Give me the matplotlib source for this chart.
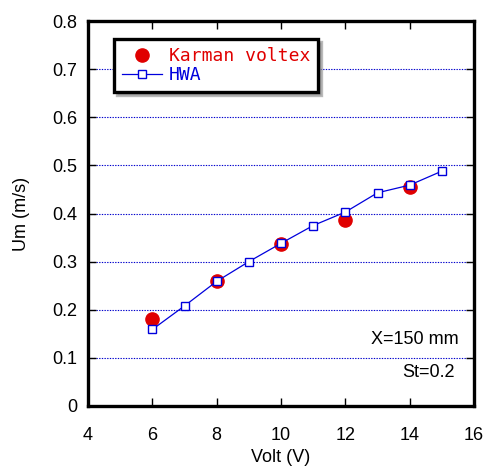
import matplotlib
matplotlib.use("Agg")
import matplotlib.pyplot as plt

volt_hwa = [6, 7, 8, 9, 10, 11, 12, 13, 14, 15]
um_hwa = [0.159, 0.208, 0.259, 0.300, 0.338, 0.375, 0.403, 0.443, 0.459, 0.488]
volt_karman = [6, 8, 10, 12, 14]
um_karman = [0.181, 0.260, 0.337, 0.387, 0.455]

plt.rcParams['font.family'] = ['Liberation Sans', 'DejaVu Sans']

fig = plt.figure(figsize=(4.87, 4.72), dpi=100)
ax = fig.add_axes([88/487, 1-406/472, 386/487, 385/472])

ax.plot(volt_karman, um_karman, 'o', color='#e00000', markersize=9.5, zorder=3,
        label='Karman voltex')
ax.plot(volt_hwa, um_hwa, '-s', color='#0000dd', markersize=6, linewidth=0.9,
        markerfacecolor='white', markeredgewidth=1.0, zorder=4, label='HWA')

ax.set_xlim(4, 16)
ax.set_ylim(0, 0.8)
ax.set_xticks([4, 6, 8, 10, 12, 14, 16])
ax.set_yticks([0, 0.1, 0.2, 0.3, 0.4, 0.5, 0.6, 0.7, 0.8])
ax.set_yticklabels(['0', '0.1', '0.2', '0.3', '0.4', '0.5', '0.6', '0.7', '0.8'])
ax.tick_params(direction='in', length=6, width=1, labelsize=13, top=True, right=True)
ax.tick_params(axis='x', pad=15)
ax.tick_params(axis='y', pad=8)
for s in ax.spines.values():
    s.set_linewidth(2.4)
ax.yaxis.grid(True, color='#0000cc', linestyle=(0, (1.2, 1.2)), linewidth=0.8)
ax.set_axisbelow(True)

ax.set_xlabel('Volt (V)', fontsize=13, labelpad=4)
ax.set_ylabel('Um (m/s)', fontsize=13, labelpad=16)

ax.text(0.961, 0.174, 'X=150 mm', transform=ax.transAxes, ha='right', va='center', fontsize=13)
ax.text(0.951, 0.086, 'St=0.2', transform=ax.transAxes, ha='right', va='center', fontsize=13)

leg = ax.legend(loc='upper left', bbox_to_anchor=(0.067, 0.953), borderaxespad=0,
                frameon=True, fancybox=False, shadow={'color': '0.55', 'alpha': 0.6},
                edgecolor='black', framealpha=1, handlelength=2.2, handletextpad=0.4,
                borderpad=0.45, labelspacing=0.05,
                prop={'family': 'DejaVu Sans Mono', 'size': 13},
                labelcolor=['#e00000', '#0000dd'])
leg.get_frame().set_linewidth(2.4)

fig.savefig('out.png', dpi=100)
